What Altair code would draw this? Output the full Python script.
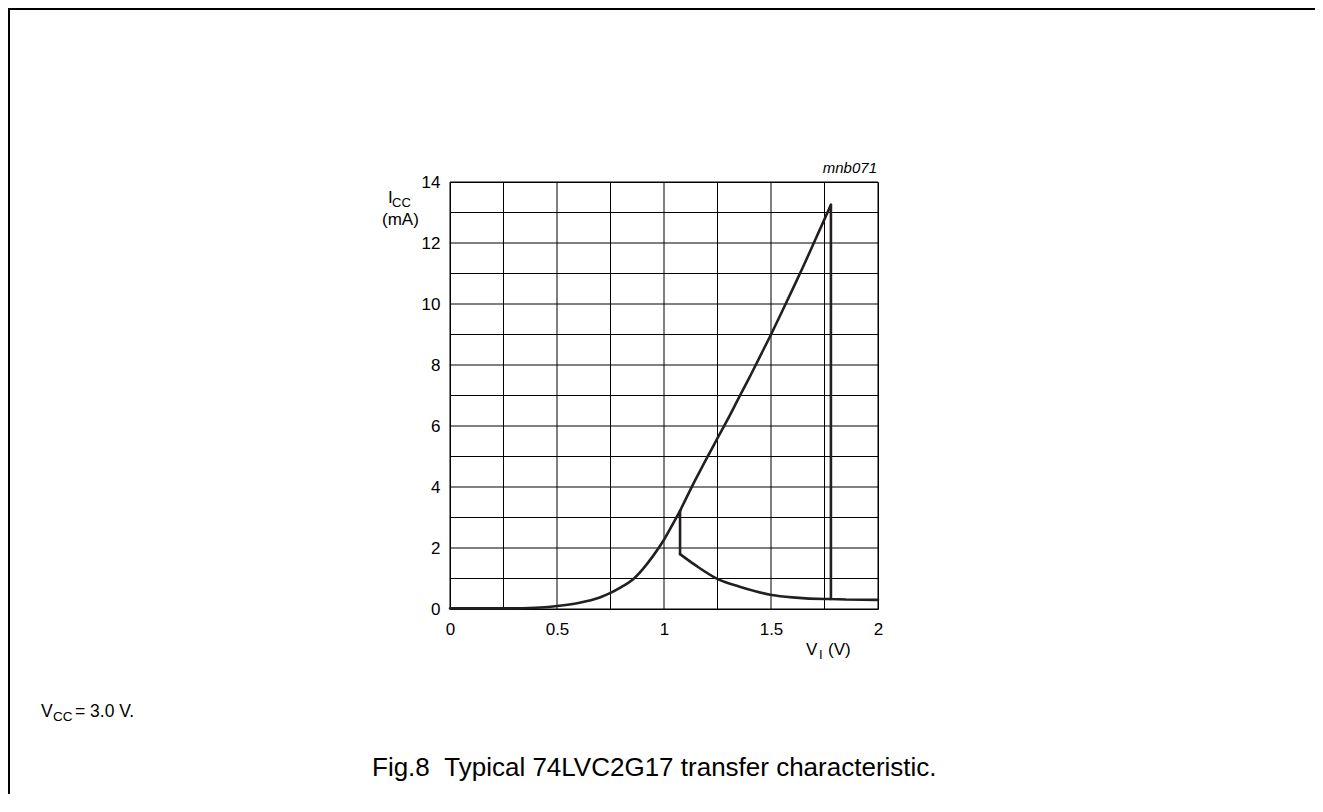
import altair as alt
import pandas as pd

# ---------------- data ----------------
x_grid = [0, 0.25, 0.5, 0.75, 1.0, 1.25, 1.5, 1.75, 2.0]
y_grid = [0, 1, 2, 3, 4, 5, 6, 7, 8, 9, 10, 11, 12, 13, 14]
x_ticks = [0, 0.5, 1, 1.5, 2]
y_ticks = [0, 2, 4, 6, 8, 10, 12, 14]

# rising input: smooth part up to the switching point
rise_v = [0, 0.25, 0.4, 0.5, 0.6, 0.7, 0.75, 0.8, 0.85, 0.9, 0.95, 1.0, 1.05,
          1.075, 1.1, 1.15, 1.2, 1.25, 1.3, 1.35, 1.4, 1.45, 1.5, 1.55, 1.6, 1.65,
          1.7, 1.78]
rise_i = [0.02, 0.02, 0.04, 0.1, 0.2, 0.38, 0.53, 0.72, 0.94, 1.3, 1.75, 2.27, 2.9,
          3.22, 3.58, 4.28, 4.95, 5.6, 6.25, 6.93, 7.6, 8.3, 9.0, 9.73, 10.47, 11.22,
          12.0, 13.25]
# rising input: switching drop and tail
drop_hi_v = [1.78, 1.78, 1.85, 2.0]
drop_hi_i = [13.25, 0.33, 0.31, 0.3]
# falling input: switching drop
drop_lo_v = [1.075, 1.075]
drop_lo_i = [3.22, 1.8]
# lower branch
fall_v = [1.075, 1.15, 1.254, 1.35, 1.503, 1.6, 1.752, 1.78]
fall_i = [1.8, 1.42, 0.97, 0.74, 0.46, 0.38, 0.33, 0.33]

FONT = "Liberation Sans"
W, H = 428, 427
PL, PT = 442, 174
TOTAL_W, TOTAL_H = 1307, 786
PX0, PY0 = 8 + PL, 8 + PT

smooth = pd.DataFrame({
    "v": rise_v + fall_v,
    "i": rise_i + fall_i,
    "seg": ["rise"] * len(rise_v) + ["fall"] * len(fall_v),
    "k": list(range(len(rise_v))) + list(range(len(fall_v))),
})
straight = pd.DataFrame({
    "v": drop_hi_v + drop_lo_v,
    "i": drop_hi_i + drop_lo_i,
    "seg": ["hi"] * len(drop_hi_v) + ["lo"] * len(drop_lo_v),
    "k": list(range(len(drop_hi_v))) + list(range(len(drop_lo_v))),
})

xscale = alt.Scale(domain=[0, 2], nice=False, zero=False)
yscale = alt.Scale(domain=[0, 14], nice=False, zero=False)
xaxis = alt.Axis(values=x_ticks, format="~g", grid=False, ticks=False, domain=False,
                 labelPadding=12, title=None, labelFlush=False,
                 labelFont=FONT, labelFontSize=17, labelColor="black")
yaxis = alt.Axis(values=y_ticks, format="~g", grid=False, ticks=False, domain=False,
                 labelPadding=10, title=None,
                 labelFont=FONT, labelFontSize=17, labelColor="black")

xg = alt.Chart(pd.DataFrame({"v": x_grid})).mark_rule(color="black", strokeWidth=1).encode(
    x=alt.X("v:Q", scale=xscale, axis=xaxis))
yg = alt.Chart(pd.DataFrame({"i": y_grid})).mark_rule(color="black", strokeWidth=1).encode(
    y=alt.Y("i:Q", scale=yscale, axis=yaxis))

smooth_lines = alt.Chart(smooth).mark_line(
    color="#231f20", strokeWidth=2.6, interpolate="monotone", strokeCap="round"
).encode(
    x=alt.X("v:Q", scale=xscale, axis=xaxis),
    y=alt.Y("i:Q", scale=yscale, axis=yaxis),
    detail="seg:N",
    order="k:Q",
)
straight_lines = alt.Chart(straight).mark_line(
    color="#231f20", strokeWidth=2.6, strokeCap="round", strokeJoin="miter"
).encode(
    x=alt.X("v:Q", scale=xscale, axis=xaxis),
    y=alt.Y("i:Q", scale=yscale, axis=yaxis),
    detail="seg:N",
    order="k:Q",
)


def txt(s, px, py, size, align="left", style="normal"):
    return alt.Chart(alt.Data(values=[{}])).mark_text(
        text=s, font=FONT, fontSize=size, align=align, baseline="alphabetic",
        fontStyle=style, color="black"
    ).encode(x=alt.value(px - PX0), y=alt.value(py - PY0))


texts = [
    txt("I", 388, 203, 17),
    txt("CC", 392, 207, 13),
    txt("(mA)", 382, 225, 17),
    txt("V", 806, 655, 17),
    txt("I", 819, 659, 13),
    txt("(V)", 828, 655, 17),
    txt("mnb071", 877, 173, 15, align="right", style="italic"),
    txt("V", 41, 717, 17.5),
    txt("CC", 53, 721, 13.5),
    txt("= 3.0 V.", 75, 717, 17.5),
    txt("Fig.8\u00a0\u00a0Typical 74LVC2G17 transfer characteristic.", 372, 776, 26),
]

top_border = alt.Chart(alt.Data(values=[{}])).mark_rule(color="black", strokeWidth=2).encode(
    x=alt.value(-PL), x2=alt.value(TOTAL_W - PL), y=alt.value(-PT + 1))
left_border = alt.Chart(alt.Data(values=[{}])).mark_rule(color="black", strokeWidth=2).encode(
    x=alt.value(-PL + 1), y=alt.value(-PT), y2=alt.value(TOTAL_H - PT))

chart = alt.layer(xg, yg, smooth_lines, straight_lines, *texts, top_border, left_border).properties(
    width=W, height=H,
    autosize=alt.AutoSizeParams(type="none"),
    padding={"left": PL, "top": PT, "right": TOTAL_W - PL - W, "bottom": TOTAL_H - PT - H},
    background="white",
).configure_view(stroke="black", strokeWidth=1)

chart.save("out.html", embed_options={"renderer": "svg", "actions": False})
